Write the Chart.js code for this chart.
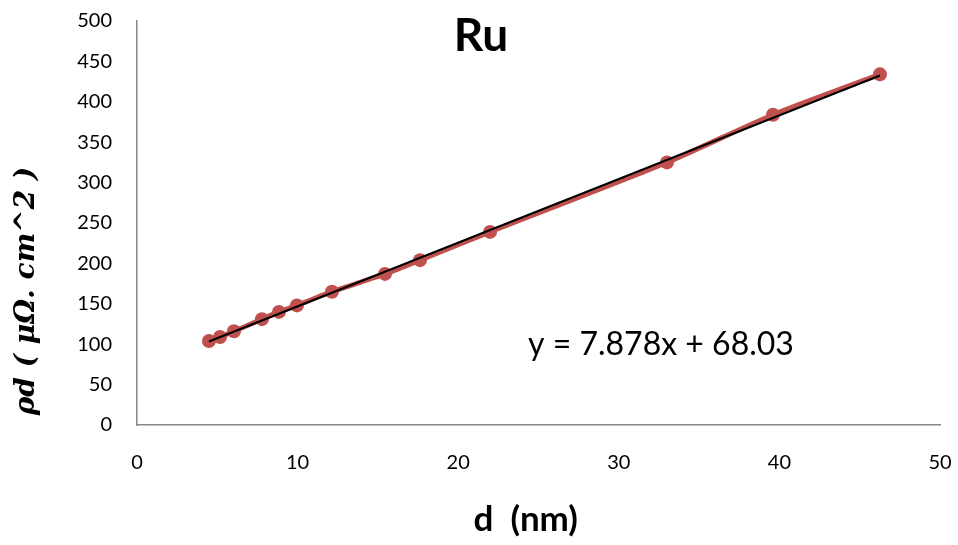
<!DOCTYPE html>
<html>
<head>
<meta charset="utf-8">
<script src="https://cdn.jsdelivr.net/npm/chart.js@4"></script>
<style>
  html, body { margin: 0; padding: 0; background: #fff; }
  #wrap { width: 958px; height: 545px; }
</style>
</head>
<body>
<div id="wrap"><canvas id="ruChart"></canvas></div>
<script>
// ========== DATA ==========
// thickness d (nm) and rho*d values
const thickness = [4.48, 5.17, 6.04, 7.78, 8.84, 9.96, 12.14, 15.44, 17.62, 21.98, 33.0, 39.6, 46.26];
const rhoD = [104, 109, 116, 131, 140, 148, 165, 187, 204, 239, 325, 384, 434];

// linear trendline endpoints
const trendX = [4.48, 46.26];
const trendY = [103.3, 432.5];

const xTicks = [0, 10, 20, 30, 40, 50];
const yTicks = [0, 50, 100, 150, 200, 250, 300, 350, 400, 450, 500];

const chartTitle = 'Ru';
const equationText = 'y = 7.878x + 68.03';

const mainFont = 'Lato, "Open Sans", sans-serif';

// draws the title and the trendline equation
const textPlugin = {
  id: 'extraText',
  afterDraw(chart) {
    const ctx = chart.ctx;
    ctx.save();
    ctx.fillStyle = '#000';
    ctx.font = 'bold 46px ' + mainFont;
    ctx.textAlign = 'center';
    ctx.textBaseline = 'middle';
    ctx.fillText(chartTitle, 481, 36);

    ctx.font = '32px ' + mainFont;
    ctx.textAlign = 'left';
    ctx.textBaseline = 'alphabetic';
    ctx.fillText(equationText, 528, 355);
    ctx.restore();
  }
};

// drop the label overflow padding so the plot area matches the reference
function noPad(axis) {
  axis.paddingTop = 0;
  axis.paddingBottom = 0;
  axis.paddingLeft = 0;
  axis.paddingRight = 0;
}

new Chart(document.getElementById('ruChart').getContext('2d'), {
  type: 'scatter',
  data: {
    datasets: [
      {
        label: 'trend',
        data: trendX.map((x, i) => ({ x: x, y: trendY[i] })),
        showLine: true,
        borderColor: '#000',
        borderWidth: 2,
        pointRadius: 0,
        order: 0
      },
      {
        label: 'Ru',
        data: thickness.map((x, i) => ({ x: x, y: rhoD[i] })),
        showLine: true,
        borderColor: '#C0504D',
        backgroundColor: '#C0504D',
        borderWidth: 5,
        pointRadius: 7,
        pointBorderWidth: 0,
        tension: 0.2,
        order: 1
      }
    ]
  },
  options: {
    responsive: true,
    maintainAspectRatio: false,
    animation: false,
    layout: { padding: { top: 21, right: 18, bottom: 0, left: 0 } },
    plugins: {
      legend: { display: false },
      tooltip: { enabled: false }
    },
    scales: {
      x: {
        type: 'linear',
        min: 0,
        max: 50,
        afterBuildTicks(axis) { axis.ticks = xTicks.map(v => ({ value: v })); },
        afterFit(axis) { axis.height = 120; noPad(axis); },
        grid: { display: false, drawTicks: false },
        border: { color: '#888', width: 1.5 },
        ticks: { color: '#000', padding: 26, font: { family: mainFont, size: 20 } },
        title: {
          display: true,
          text: 'd  (nm)   ',
          color: '#000',
          padding: { bottom: 4 },
          font: { family: mainFont, size: 35, weight: 'bold' }
        }
      },
      y: {
        type: 'linear',
        min: 0,
        max: 500,
        afterBuildTicks(axis) { axis.ticks = yTicks.map(v => ({ value: v })); },
        afterFit(axis) { axis.width = 137; noPad(axis); },
        grid: { display: false, drawTicks: false },
        border: { color: '#888', width: 1.5 },
        ticks: { color: '#000', padding: 25, font: { family: mainFont, size: 20 } },
        title: {
          display: true,
          text: ' ρd ( μΩ. cm^2 )',
          color: '#000',
          align: 'start',
          padding: { top: 10 },
          font: { family: '"DejaVu Serif", serif', size: 28, weight: 'bold', style: 'italic' }
        }
      }
    }
  },
  plugins: [textPlugin]
});
</script>
</body>
</html>
